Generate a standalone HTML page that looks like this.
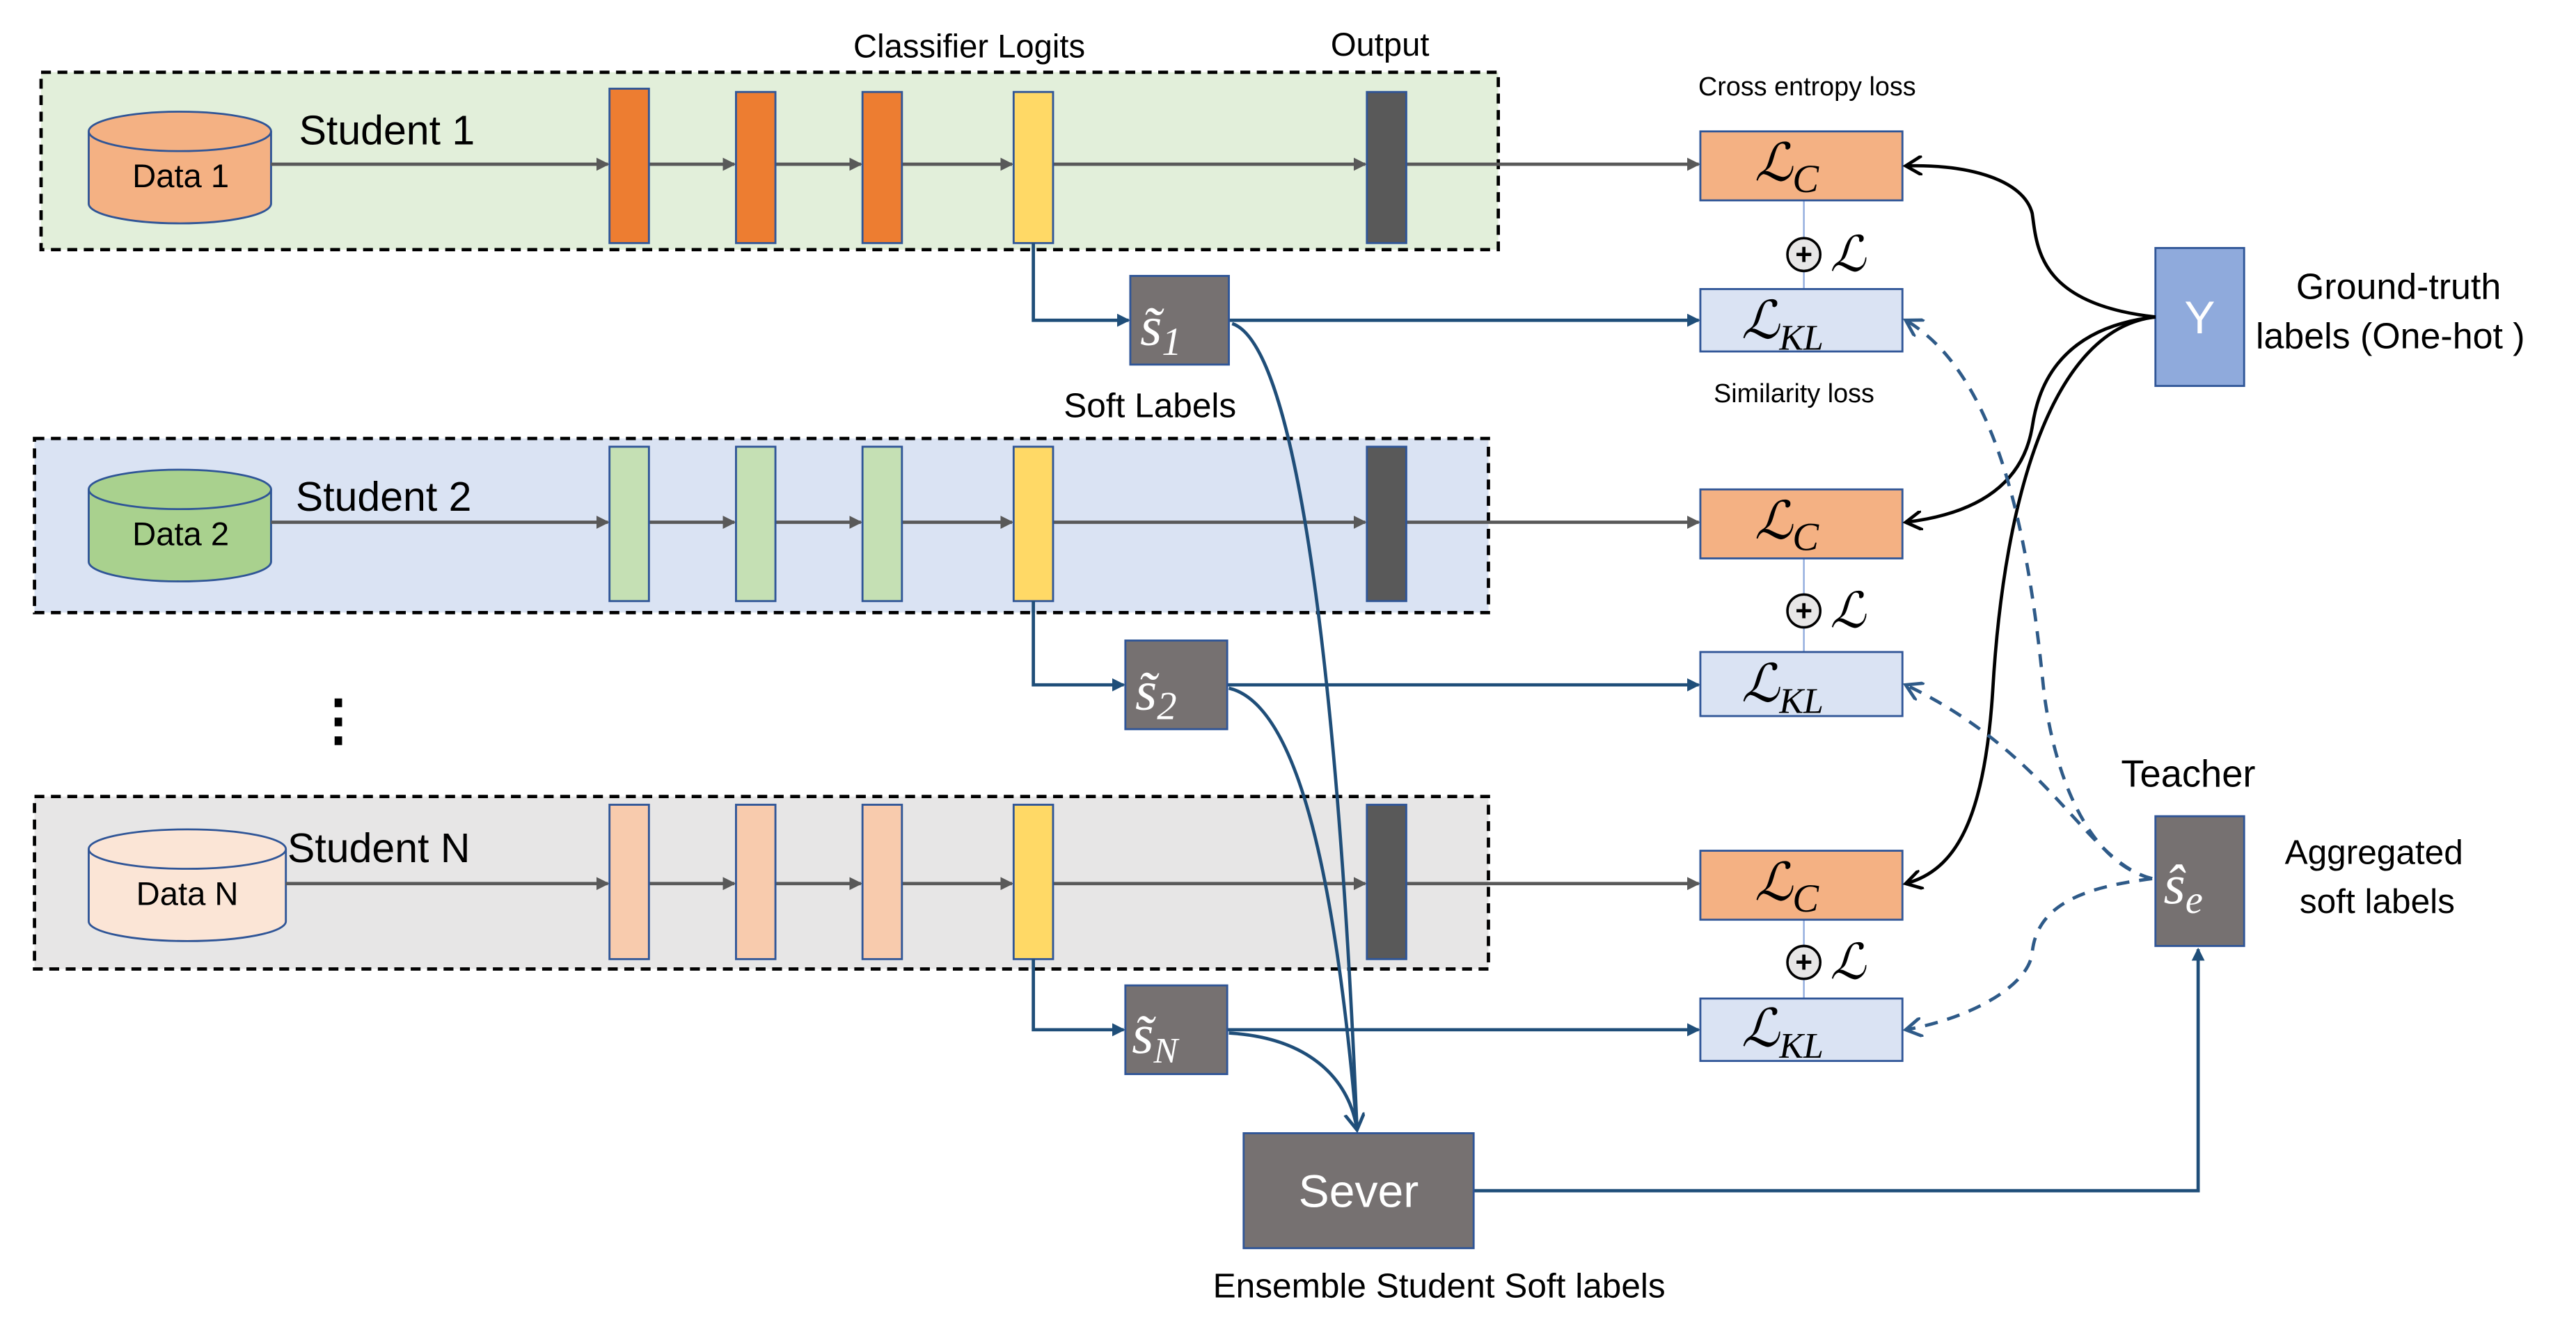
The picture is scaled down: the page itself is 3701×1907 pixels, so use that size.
<!DOCTYPE html>
<html><head><meta charset="utf-8"><style>
html,body{margin:0;padding:0;background:#fff}
svg{display:block}
text{font-family:"Liberation Sans",Arial,sans-serif}
.m{font-family:"Liberation Serif",serif;font-style:italic}
</style></head><body>
<svg width="3701" height="1907" viewBox="0 0 1568 808" preserveAspectRatio="none" xmlns="http://www.w3.org/2000/svg">
<defs>
<marker id="ag" markerWidth="8" markerHeight="8" refX="7" refY="4" orient="auto" markerUnits="userSpaceOnUse"><path d="M0,0 L8,4 L0,8 Z" fill="#595959"/></marker>
<marker id="ab" markerWidth="8" markerHeight="8" refX="7" refY="4" orient="auto" markerUnits="userSpaceOnUse"><path d="M0,0 L8,4 L0,8 Z" fill="#1f4e79"/></marker>
<marker id="ak" markerWidth="12" markerHeight="12" refX="10" refY="6" orient="auto" markerUnits="userSpaceOnUse"><path d="M0,0 L10,6 L0,12" fill="none" stroke="#000" stroke-width="2"/></marker>
<marker id="ao" markerWidth="12" markerHeight="12" refX="10" refY="6" orient="auto" markerUnits="userSpaceOnUse"><path d="M0,0 L10,6 L0,12" fill="none" stroke="#2e5a88" stroke-width="2"/></marker>
<marker id="av" markerWidth="12" markerHeight="14" refX="10" refY="6" orient="auto" markerUnits="userSpaceOnUse"><path d="M0,0 L10,6 L0,12" fill="none" stroke="#1f4e79" stroke-width="2"/></marker>
</defs>

<text x="590" y="35" font-size="20" text-anchor="middle">Classifier Logits</text>
<text x="840" y="34" font-size="20" text-anchor="middle">Output</text>

<rect x="25" y="44" width="887" height="108" fill="#e2efda" stroke="#000" stroke-width="2" stroke-dasharray="6,4"/>
<rect x="21" y="267" width="885" height="106" fill="#dae3f3" stroke="#000" stroke-width="2" stroke-dasharray="6,4"/>
<rect x="21" y="485" width="885" height="105" fill="#e7e6e6" stroke="#000" stroke-width="2" stroke-dasharray="6,4"/>

<g stroke="#2f5597" stroke-width="1.2">
<path d="M54,80 v44 a55.5,12 0 0 0 111,0 v-44" fill="#f4b183"/><ellipse cx="109.5" cy="80" rx="55.5" ry="12" fill="#f4b183"/>
<path d="M54,298 v44 a55.5,12 0 0 0 111,0 v-44" fill="#a9d18e"/><ellipse cx="109.5" cy="298" rx="55.5" ry="12" fill="#a9d18e"/>
<path d="M54,517 v44 a60,12 0 0 0 120,0 v-44" fill="#fbe5d6"/><ellipse cx="114" cy="517" rx="60" ry="12" fill="#fbe5d6"/>
</g>
<text x="110" y="114" font-size="20" text-anchor="middle">Data 1</text>
<text x="110" y="332" font-size="20" text-anchor="middle">Data 2</text>
<text x="114" y="551" font-size="20" text-anchor="middle">Data N</text>
<text x="182" y="88" font-size="25">Student 1</text>
<text x="180" y="311" font-size="25">Student 2</text>
<text x="175" y="525" font-size="25">Student N</text>

<g stroke="#595959" stroke-width="2" marker-end="url(#ag)">
<line x1="165" y1="100" x2="370" y2="100"/><line x1="395" y1="100" x2="447" y2="100"/><line x1="472" y1="100" x2="524" y2="100"/><line x1="549" y1="100" x2="616" y2="100"/><line x1="641" y1="100" x2="831" y2="100"/><line x1="856" y1="100" x2="1034" y2="100"/>
<line x1="165" y1="318" x2="370" y2="318"/><line x1="395" y1="318" x2="447" y2="318"/><line x1="472" y1="318" x2="524" y2="318"/><line x1="549" y1="318" x2="616" y2="318"/><line x1="641" y1="318" x2="831" y2="318"/><line x1="856" y1="318" x2="1034" y2="318"/>
<line x1="174" y1="538" x2="370" y2="538"/><line x1="395" y1="538" x2="447" y2="538"/><line x1="472" y1="538" x2="524" y2="538"/><line x1="549" y1="538" x2="616" y2="538"/><line x1="641" y1="538" x2="831" y2="538"/><line x1="856" y1="538" x2="1034" y2="538"/>
</g>

<g stroke="#2f5597" stroke-width="1.2">
<rect x="371" y="54" width="24" height="94" fill="#ed7d31"/><rect x="448" y="56" width="24" height="92" fill="#ed7d31"/><rect x="525" y="56" width="24" height="92" fill="#ed7d31"/><rect x="617" y="56" width="24" height="92" fill="#ffd966"/><rect x="832" y="56" width="24" height="92" fill="#595959"/>
<rect x="371" y="272" width="24" height="94" fill="#c5e0b4"/><rect x="448" y="272" width="24" height="94" fill="#c5e0b4"/><rect x="525" y="272" width="24" height="94" fill="#c5e0b4"/><rect x="617" y="272" width="24" height="94" fill="#ffd966"/><rect x="832" y="272" width="24" height="94" fill="#595959"/>
<rect x="371" y="490" width="24" height="94" fill="#f8cbad"/><rect x="448" y="490" width="24" height="94" fill="#f8cbad"/><rect x="525" y="490" width="24" height="94" fill="#f8cbad"/><rect x="617" y="490" width="24" height="94" fill="#ffd966"/><rect x="832" y="490" width="24" height="94" fill="#595959"/>
</g>

<g stroke="#1f4e79" stroke-width="2" fill="none" marker-end="url(#ab)">
<path d="M629,148 V195 H687"/><path d="M629,366 V417 H684"/><path d="M629,584 V627 H684"/>
<line x1="748" y1="195" x2="1034" y2="195"/><line x1="747" y1="417" x2="1034" y2="417"/><line x1="747" y1="627" x2="1034" y2="627"/>
</g>
<g stroke="#1f4e79" stroke-width="2" fill="none">
<path d="M750,197 C790,210 815,420 826,688"/>
<path d="M748,419 C795,430 815,560 826,688"/>
<path d="M748,629 C800,632 822,660 826,688" marker-end="url(#av)"/>
<path d="M897,725 H1338 V578" marker-end="url(#ab)"/>
</g>

<g fill="#767171" stroke="#2f5597" stroke-width="1.2">
<rect x="688" y="168" width="60" height="54"/><rect x="685" y="390" width="62" height="54"/><rect x="685" y="600" width="62" height="54"/>
<rect x="1312" y="497" width="54" height="79"/><rect x="757" y="690" width="140" height="70"/>
</g>
<g fill="#fff" font-size="34">
<text x="694" y="210" class="m">s&#771;<tspan font-size="24" dy="6">1</tspan></text>
<text x="691" y="432" class="m">s&#771;<tspan font-size="24" dy="6">2</tspan></text>
<text x="689" y="641" class="m">s&#771;<tspan font-size="22" dy="6">N</tspan></text>
<text x="1317" y="550" class="m">s&#770;<tspan font-size="24" dy="6">e</tspan></text>
</g>
<text x="827" y="735" font-size="28" fill="#fff" text-anchor="middle">Sever</text>
<text x="876" y="790" font-size="21" text-anchor="middle">Ensemble Student Soft labels</text>
<text x="700" y="254" font-size="21" text-anchor="middle">Soft Labels</text>
<text x="206" y="450" font-size="34" text-anchor="middle" font-weight="bold">&#8942;</text>

<g stroke="#8faadc" stroke-width="1"><line x1="1098" y1="122" x2="1098" y2="176"/><line x1="1098" y1="340" x2="1098" y2="397"/><line x1="1098" y1="560" x2="1098" y2="608"/></g>
<g stroke="#2f5597" stroke-width="1.2">
<rect x="1035" y="80" width="123" height="42" fill="#f4b183"/><rect x="1035" y="176" width="123" height="38" fill="#dae3f3"/>
<rect x="1035" y="298" width="123" height="42" fill="#f4b183"/><rect x="1035" y="397" width="123" height="39" fill="#dae3f3"/>
<rect x="1035" y="518" width="123" height="42" fill="#f4b183"/><rect x="1035" y="608" width="123" height="38" fill="#dae3f3"/>
</g>
<g class="m" font-size="32">
<text x="1068" y="110" class="m">&#8466;<tspan font-size="24" dy="7">C</tspan></text>
<text x="1060" y="206" class="m">&#8466;<tspan font-size="22" dy="7">KL</tspan></text>
<text x="1068" y="328" class="m">&#8466;<tspan font-size="24" dy="7">C</tspan></text>
<text x="1060" y="427" class="m">&#8466;<tspan font-size="22" dy="7">KL</tspan></text>
<text x="1068" y="548" class="m">&#8466;<tspan font-size="24" dy="7">C</tspan></text>
<text x="1060" y="637" class="m">&#8466;<tspan font-size="22" dy="7">KL</tspan></text>
</g>
<g>
<circle cx="1098" cy="155" r="10" fill="#e7e6e6" stroke="#000" stroke-width="1.5"/><text x="1098" y="161" font-size="18" font-weight="bold" text-anchor="middle">+</text><text x="1114" y="165" class="m" font-size="30">&#8466;</text>
<circle cx="1098" cy="372" r="10" fill="#e7e6e6" stroke="#000" stroke-width="1.5"/><text x="1098" y="378" font-size="18" font-weight="bold" text-anchor="middle">+</text><text x="1114" y="382" class="m" font-size="30">&#8466;</text>
<circle cx="1098" cy="586" r="10" fill="#e7e6e6" stroke="#000" stroke-width="1.5"/><text x="1098" y="592" font-size="18" font-weight="bold" text-anchor="middle">+</text><text x="1114" y="596" class="m" font-size="30">&#8466;</text>
</g>
<text x="1100" y="58" font-size="16" text-anchor="middle">Cross entropy loss</text>
<text x="1092" y="245" font-size="16" text-anchor="middle">Similarity loss</text>

<rect x="1312" y="151" width="54" height="84" fill="#8faadc" stroke="#2f5597" stroke-width="1.2"/>
<text x="1339" y="203" font-size="28" fill="#fff" text-anchor="middle">Y</text>
<text x="1460" y="182" font-size="22" text-anchor="middle">Ground-truth</text>
<text x="1455" y="212" font-size="22" text-anchor="middle">labels (One-hot )</text>
<g stroke="#000" stroke-width="2" fill="none" marker-end="url(#ak)">
<path d="M1312,193 C1240,185 1240,150 1237,130 C1232,110 1200,100 1160,101"/>
<path d="M1312,193 C1250,200 1240,240 1237,260 C1232,290 1210,312 1160,318"/>
<path d="M1312,193 C1250,200 1220,300 1213,420 C1208,500 1190,530 1160,538"/>
</g>
<text x="1332" y="479" font-size="23" text-anchor="middle">Teacher</text>
<text x="1445" y="526" font-size="21" text-anchor="middle">Aggregated</text>
<text x="1447" y="556" font-size="21" text-anchor="middle">soft labels</text>
<g stroke="#2e5a88" stroke-width="2" fill="none" stroke-dasharray="8,6" marker-end="url(#ao)">
<path d="M1310,535 C1270,525 1250,470 1244,420 C1236,340 1220,230 1160,195"/>
<path d="M1310,535 C1270,525 1250,460 1160,417"/>
<path d="M1310,535 C1270,540 1240,550 1237,580 C1235,600 1200,620 1160,627"/>
</g>
</svg>
</body></html>
